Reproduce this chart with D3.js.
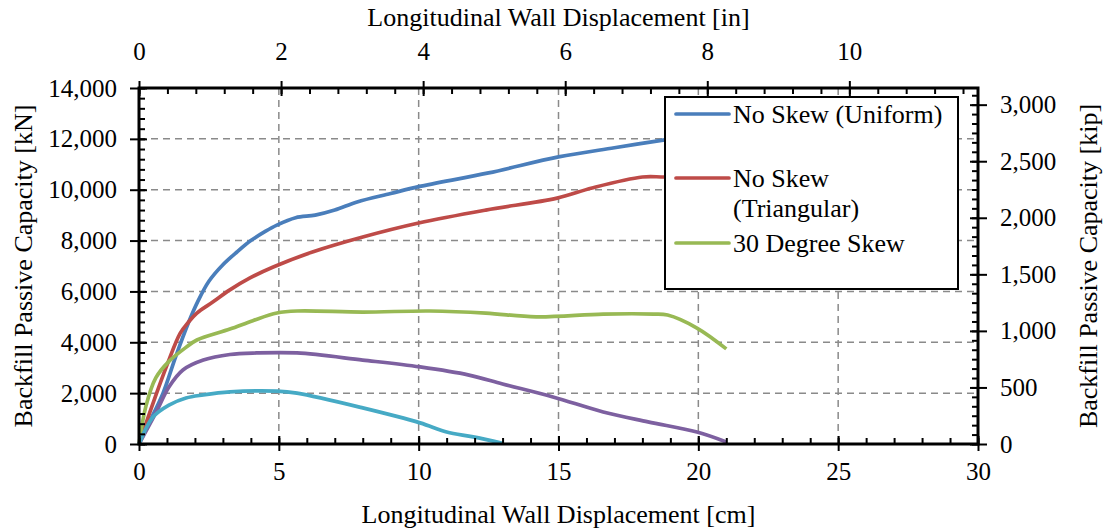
<!DOCTYPE html>
<html>
<head>
<meta charset="utf-8">
<script src="https://cdn.jsdelivr.net/npm/d3@7"></script>
<style>
  body { margin: 0; background: #fff; }
</style>
</head>
<body>
<div id="chart"></div>
<script>
// displacement [cm] and capacity [kN]
var cmUniform = [0, 0.3, 0.86, 1.3, 1.76, 2.1, 2.5, 3.0, 3.5, 4, 4.5, 4.93, 5.6, 6.3, 7, 7.8, 9, 10, 12.5, 15, 17, 18.8, 21];
var kNUniform = [0, 700, 2000, 3400, 4750, 5600, 6400, 7050, 7550, 8000, 8350, 8610, 8900, 9000, 9200, 9520, 9850, 10120, 10660, 11290, 11650, 11960, 12300];

var cmTriangular = [0, 0.5, 1.0, 1.47, 1.76, 2.07, 2.65, 3.25, 3.97, 4.8, 6.2, 8, 10, 12.4, 14.95, 16.2, 18, 18.8, 21];
var kNTriangular = [0, 1600, 3100, 4350, 4780, 5150, 5590, 6060, 6530, 6960, 7550, 8140, 8690, 9200, 9670, 10070, 10500, 10500, 10500];

var cmSkew30 = [0, 0.25, 0.6, 1.07, 1.68, 2.07, 3.25, 4.07, 4.93, 5.65, 8.0, 10.4, 12.4, 14.2, 16.6, 18.4, 18.9, 19.95, 21.0];
var kNSkew30 = [0, 1500, 2600, 3250, 3800, 4090, 4520, 4850, 5150, 5230, 5190, 5230, 5150, 5000, 5110, 5110, 5070, 4560, 3740];

var cmPurple = [0, 0.6, 1.07, 1.57, 2.3, 3.25, 4.2, 5.65, 8.0, 10.05, 11.8, 13.0, 14.8, 16.6, 18.2, 19.95, 21.0];
var kNPurple = [0, 1220, 2240, 2910, 3300, 3520, 3580, 3580, 3300, 3030, 2710, 2360, 1850, 1260, 870, 470, 80];

var cmTeal = [0, 0.5, 1.07, 1.68, 2.3, 3.25, 4.93, 5.65, 8.0, 10.05, 11.0, 11.95, 13.0];
var kNTeal = [0, 1060, 1530, 1810, 1930, 2050, 2080, 2000, 1420, 830, 470, 280, 30];

var xTicksCm = [0, 5, 10, 15, 20, 25, 30];
var xTicksIn = [0, 2, 4, 6, 8, 10];
var yTicksKN = [0, 2000, 4000, 6000, 8000, 10000, 12000, 14000];
var yTicksKip = [0, 500, 1000, 1500, 2000, 2500, 3000];

var legendNames = [["No Skew (Uniform)"], ["No Skew", "(Triangular)"], ["30 Degree Skew"]];

(function () {
    "use strict";
    var width = 1103, height = 531,
        left = 139, right = 978, top = 88, bottom = 444,
        KN_PER_KIP = 4.44822,
        FONT = "'Liberation Serif', 'Times New Roman', Tinos, 'DejaVu Serif', serif";

    var series = [
        {cm: cmUniform, kN: kNUniform, color: "#4a7ebb"},
        {cm: cmTriangular, kN: kNTriangular, color: "#be4b48"},
        {cm: cmSkew30, kN: kNSkew30, color: "#98b954"},
        {cm: cmPurple, kN: kNPurple, color: "#7d60a0"},
        {cm: cmTeal, kN: kNTeal, color: "#46aac5"}
    ];

    var x = d3.scaleLinear().domain([0, 30]).range([left, right]),
        xIn = d3.scaleLinear().domain([0, 30 / 2.54]).range([left, right]),
        y = d3.scaleLinear().domain([0, 14000]).range([bottom, top]),
        yKip = d3.scaleLinear().domain([0, 14000 / KN_PER_KIP]).range([bottom, top]);

    var svg = d3.select("#chart").append("svg")
        .attr("width", width).attr("height", height)
        .style("font-family", FONT);

    // grid
    var grid = svg.append("g").attr("stroke", "#8a8a8a").attr("stroke-width", 1.5)
        .attr("stroke-dasharray", "7,5");
    grid.selectAll(".gx").data(xTicksCm.filter(function (d) { return d > 0 && d < 30; }))
        .enter().append("line")
        .attr("x1", function (d) { return x(d); }).attr("x2", function (d) { return x(d); })
        .attr("y1", top).attr("y2", bottom);
    grid.selectAll(".gy").data(yTicksKN.filter(function (d) { return d > 0 && d < 14000; }))
        .enter().append("line")
        .attr("y1", function (d) { return y(d); }).attr("y2", function (d) { return y(d); })
        .attr("x1", left).attr("x2", right);

    // curves
    var line = d3.line().curve(d3.curveCatmullRom.alpha(0.5));
    svg.append("g").selectAll("path").data(series).enter().append("path")
        .attr("fill", "none")
        .attr("stroke", function (d) { return d.color; })
        .attr("stroke-width", 3.7)
        .attr("stroke-linejoin", "round")
        .attr("d", function (d) {
            return line(d.cm.map(function (c, i) { return [x(c), y(d.kN[i])]; }));
        });

    function range(a, b, step) {
        var out = [];
        for (var v = a; v <= b + 1e-9; v += step) { out.push(v); }
        return out;
    }

    function styleAxis(g) {
        g.attr("font-family", null).attr("font-size", null);
        g.select(".domain").remove();
        g.selectAll(".tick line").attr("stroke", "#000").attr("stroke-width", 2);
        g.selectAll(".tick text").style("font-size", "25px").style("font-family", FONT)
            .attr("fill", "#000");
    }

    // minor ticks (inside)
    var minors = svg.append("g");
    minors.append("g").attr("transform", "translate(0," + bottom + ")")
        .call(d3.axisBottom(x).tickValues(range(0, 30, 1)).tickSize(-6).tickFormat(""))
        .call(styleAxis);
    minors.append("g").attr("transform", "translate(0," + top + ")")
        .call(d3.axisTop(xIn).tickValues(range(0, 11.8, 0.4)).tickSize(-6).tickFormat(""))
        .call(styleAxis);
    minors.append("g").attr("transform", "translate(" + left + ",0)")
        .call(d3.axisLeft(y).tickValues(range(0, 14000, 400)).tickSize(-6).tickFormat(""))
        .call(styleAxis);
    minors.append("g").attr("transform", "translate(" + right + ",0)")
        .call(d3.axisRight(yKip).tickValues(range(0, 3140, 500 / 6)).tickSize(-6).tickFormat(""))
        .call(styleAxis);

    // major ticks, inside part
    minors.append("g").attr("transform", "translate(0," + bottom + ")")
        .call(d3.axisBottom(x).tickValues(xTicksCm).tickSize(-8).tickFormat("")).call(styleAxis);
    minors.append("g").attr("transform", "translate(0," + top + ")")
        .call(d3.axisTop(xIn).tickValues(xTicksIn).tickSize(-8).tickFormat("")).call(styleAxis);
    minors.append("g").attr("transform", "translate(" + left + ",0)")
        .call(d3.axisLeft(y).tickValues(yTicksKN).tickSize(-8).tickFormat("")).call(styleAxis);
    minors.append("g").attr("transform", "translate(" + right + ",0)")
        .call(d3.axisRight(yKip).tickValues(yTicksKip).tickSize(-8).tickFormat("")).call(styleAxis);

    // major ticks with labels
    var fmt = d3.format(",");
    svg.append("g").attr("transform", "translate(0," + bottom + ")")
        .call(d3.axisBottom(x).tickValues(xTicksCm).tickSize(7).tickPadding(11).tickFormat(fmt))
        .call(styleAxis);
    svg.append("g").attr("transform", "translate(0," + top + ")")
        .call(d3.axisTop(xIn).tickValues(xTicksIn).tickSize(7).tickPadding(21).tickFormat(fmt))
        .call(styleAxis);
    svg.append("g").attr("transform", "translate(" + left + ",0)")
        .call(d3.axisLeft(y).tickValues(yTicksKN).tickSize(9).tickPadding(13).tickFormat(fmt))
        .call(styleAxis);
    svg.append("g").attr("transform", "translate(" + right + ",0)")
        .call(d3.axisRight(yKip).tickValues(yTicksKip).tickSize(9).tickPadding(13).tickFormat(fmt))
        .call(styleAxis);

    // frame
    svg.append("rect").attr("x", left).attr("y", top)
        .attr("width", right - left).attr("height", bottom - top)
        .attr("fill", "none").attr("stroke", "#000").attr("stroke-width", 3);

    function title(sel) {
        return sel.attr("text-anchor", "middle").style("font-size", "26px")
            .style("font-family", FONT).attr("fill", "#000");
    }
    // axis titles
    svg.append("text").attr("x", (left + right) / 2).attr("y", 26).call(title)
        .text("Longitudinal Wall Displacement [in]");
    svg.append("text").attr("x", (left + right) / 2).attr("y", 523).call(title)
        .text("Longitudinal Wall Displacement [cm]");
    svg.append("text")
        .attr("transform", "translate(32," + (top + bottom) / 2 + ") rotate(-90)").call(title)
        .text("Backfill Passive Capacity [kN]");
    svg.append("text")
        .attr("transform", "translate(1097," + (top + bottom) / 2 + ") rotate(-90)").call(title)
        .text("Backfill Passive Capacity [kip]");

    // legend
    var lg = svg.append("g").attr("transform", "translate(665,97)");
    lg.append("rect").attr("width", 293).attr("height", 192)
        .attr("fill", "#fff").attr("stroke", "#000").attr("stroke-width", 2);
    var rowY = [17, 81, 146];
    var items = lg.selectAll(".item").data(legendNames).enter().append("g")
        .attr("transform", function (d, i) { return "translate(0," + rowY[i] + ")"; });
    items.append("line").attr("x1", 11).attr("x2", 64).attr("y1", 0).attr("y2", 0)
        .attr("stroke", function (d, i) { return series[i].color; })
        .attr("stroke-width", 3.7).attr("stroke-linecap", "round");
    items.append("text").attr("x", 68).attr("y", 9).style("font-size", "26px")
        .style("font-family", FONT).attr("fill", "#000")
        .selectAll("tspan").data(function (d) { return d; }).enter().append("tspan")
        .attr("x", 68).attr("dy", function (d, i) { return i === 0 ? 0 : 30; })
        .text(function (d) { return d; });
})();
</script>
</body>
</html>
